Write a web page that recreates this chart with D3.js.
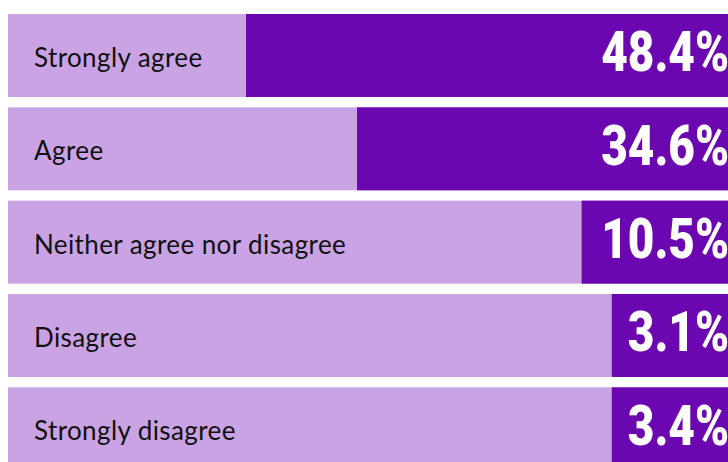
<!DOCTYPE html>
<html>
<head>
<meta charset="utf-8">
<script src="https://cdn.jsdelivr.net/npm/d3@7/dist/d3.min.js"></script>
<style>
  html, body { margin: 0; padding: 0; background: #fff; overflow: hidden; }
  svg { display: block; }
</style>
</head>
<body>
<svg id="chart"></svg>
<script>
// survey answers and their shares (%)
var categories = ["Strongly agree", "Agree", "Neither agree nor disagree", "Disagree", "Strongly disagree"];
var values = [48.4, 34.6, 10.5, 3.1, 3.4];
var valueLabels = ["48.4%", "34.6%", "10.5%", "3.1%", "3.4%"];

(function() {
  var width = 728, height = 462;
  var marginLeft = 8, marginTop = 14;
  var light = "#caa3e4", dark = "#6b07b0";

  var svg = d3.select("#chart")
    .attr("width", width)
    .attr("height", height);

  // rows
  var y = d3.scaleBand()
    .domain(categories)
    .range([marginTop, marginTop + 5 * 93.33 - 10.33])
    .paddingInner(0.1107)
    .paddingOuter(0);

  // bar length, grows from the right edge
  var w = d3.scalePow()
    .exponent(0.78)
    .domain([0, 48.4])
    .range([0, 482]);

  var data = categories.map(function(c, i) {
    return { cat: c, v: values[i], label: valueLabels[i] };
  });

  var rows = svg.selectAll("g.row")
    .data(data)
    .enter().append("g")
    .attr("class", "row")
    .attr("transform", function(d) { return "translate(0," + y(d.cat) + ")"; });

  // light background band
  rows.append("rect")
    .attr("x", marginLeft)
    .attr("y", 0)
    .attr("width", width - marginLeft)
    .attr("height", y.bandwidth())
    .attr("fill", light);

  var bars = rows.append("rect")
    .attr("class", "bar")
    .attr("y", 0)
    .attr("height", y.bandwidth())
    .attr("fill", dark);

  // category text
  rows.append("text")
    .attr("x", 34)
    .attr("y", 53)
    .attr("font-family", "Lato, 'Open Sans', sans-serif")
    .attr("font-size", 26)
    .attr("letter-spacing", 0.4)
    .attr("fill", "#111")
    .text(function(d) { return d.cat; });

  // big value text, squeezed to look condensed
  var sx = 0.82, textEnd = 729, pad = 14;
  var valG = rows.append("g")
    .attr("transform", "translate(" + textEnd + "," + (y.bandwidth() / 2 + 16) + ") scale(" + sx + ",1)");
  var valText = valG.append("text")
    .attr("text-anchor", "end")
    .attr("font-family", "Roboto, 'Liberation Sans', sans-serif")
    .attr("font-weight", 900)
    .attr("font-size", 56)
    .attr("fill", "#fff")
    .text(function(d) { return d.label; });

  // bar must at least hold its label
  bars.each(function(d, i) {
    var tw = valText.nodes()[i].getComputedTextLength() * sx;
    var bw = Math.max(w(d.v), tw + pad + (textEnd - width));
    d3.select(this)
      .attr("x", width - bw)
      .attr("width", bw);
  });
})();
</script>
</body>
</html>
